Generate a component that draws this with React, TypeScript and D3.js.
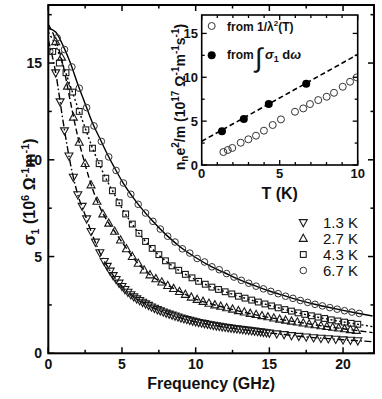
import React from 'react';
import * as d3 from 'd3';

const FONT = "'Liberation Sans', Arial, Helvetica, sans-serif";

// ---------- main panel: sigma1 (10^6 Ohm^-1 m^-1) vs frequency (GHz) ----------
const fitFreq = [0, 0.5, 1, 1.5, 2, 2.5, 3, 3.5, 4, 4.5, 5, 6, 7, 8, 9, 10, 11, 12, 13, 14, 15, 16, 17, 18, 19, 20, 21, 22];
const fit13 = [16.2, 14.5, 12.0, 9.8, 8.2, 7.15, 6.1, 5.2, 4.5, 3.92, 3.46, 2.82, 2.4, 2.08, 1.83, 1.63, 1.48, 1.35, 1.25, 1.15, 1.05, 0.97, 0.88, 0.81, 0.76, 0.7, 0.65, 0.6];
const fit27 = [17.0, 16.2, 14.9, 13.0, 11.2, 9.75, 8.5, 7.55, 6.85, 6.3, 5.75, 4.72, 4.0, 3.55, 3.16, 2.8, 2.56, 2.36, 2.17, 2.0, 1.85, 1.72, 1.6, 1.48, 1.37, 1.27, 1.17, 1.07];
const fit43 = [16.6, 15.9, 14.9, 13.8, 12.7, 11.65, 10.6, 9.7, 8.9, 8.2, 7.5, 6.35, 5.45, 4.75, 4.22, 3.8, 3.45, 3.18, 2.93, 2.7, 2.48, 2.27, 2.08, 1.91, 1.76, 1.62, 1.5, 1.38];
const fit67 = [16.8, 16.6, 15.9, 15.0, 13.9, 12.9, 11.9, 11.1, 10.3, 9.58, 8.9, 7.8, 6.9, 6.12, 5.47, 4.95, 4.5, 4.15, 3.8, 3.5, 3.22, 2.98, 2.75, 2.55, 2.38, 2.22, 2.07, 1.93];

const freq13 = [0.5, 0.8, 1.1, 1.4, 1.7, 2.0, 2.3, 2.6, 2.9, 3.2, 3.5, 3.8,
  4.0, 4.2, 4.4, 4.6, 4.8, 5.0, 5.2, 5.4, 5.6, 5.8, 6.0, 6.2, 6.4, 6.6, 6.8, 7.0, 7.2, 7.4, 7.6, 7.8,
  8.0, 8.2, 8.4, 8.6, 8.8, 9.0, 9.2, 9.4, 9.6, 9.8, 10.0, 10.2, 10.4, 10.6, 10.8, 11.0, 11.2, 11.4, 11.6, 11.8,
  12.0, 12.2, 12.4, 12.6, 12.8, 13.0, 13.2, 13.4, 13.6, 13.8, 14.0, 14.2, 14.4, 14.6, 14.8, 15.0,
  15.5, 16.0, 16.5, 17.0, 17.5, 18.0, 18.5, 19.0, 19.5, 20.0, 20.5, 21.0];
const sig13 = [14.5, 13.0, 11.5, 10.2, 9.1, 8.2, 7.6, 6.95, 6.3, 5.75, 5.2, 4.75,
  4.5, 4.25, 4.02, 3.82, 3.63, 3.46, 3.3, 3.16, 3.03, 2.92, 2.82, 2.73, 2.64, 2.56, 2.48, 2.4, 2.33, 2.26, 2.2, 2.14,
  2.08, 2.03, 1.98, 1.93, 1.88, 1.83, 1.79, 1.75, 1.71, 1.67, 1.63, 1.6, 1.57, 1.54, 1.51, 1.48, 1.45, 1.42, 1.4, 1.37,
  1.35, 1.33, 1.31, 1.29, 1.27, 1.25, 1.23, 1.21, 1.19, 1.17, 1.15, 1.13, 1.11, 1.09, 1.07, 1.05,
  1.01, 0.97, 0.92, 0.88, 0.85, 0.81, 0.78, 0.76, 0.73, 0.7, 0.68, 0.65];

const freq27 = [0.5, 0.9, 1.3, 1.7, 2.1, 2.5, 2.9, 3.3, 3.7, 4.1, 4.5, 4.9, 5.3, 5.7, 6.1, 6.5, 6.9, 7.3, 7.7, 8.1,
  8.5, 8.9, 9.3, 9.7, 10.1, 10.5, 10.9, 11.3, 11.7, 12.1, 12.5, 12.9, 13.3, 13.7, 14.1, 14.5, 14.9, 15.3, 15.7,
  16.1, 16.5, 16.9, 17.3, 17.7, 18.1, 18.5, 18.9, 19.3, 19.7, 20.1, 20.5, 20.9];
const sig27 = [16.1, 15.3, 13.8, 12.2, 10.9, 9.8, 8.7, 7.85, 7.2, 6.72, 6.3, 5.85, 5.4, 5.0, 4.65, 4.3, 4.05, 3.85, 3.68, 3.5,
  3.34, 3.19, 3.04, 2.9, 2.78, 2.68, 2.58, 2.5, 2.43, 2.35, 2.28, 2.2, 2.13, 2.06, 2.0, 1.94, 1.88, 1.82, 1.76,
  1.71, 1.66, 1.61, 1.56, 1.51, 1.47, 1.42, 1.38, 1.34, 1.3, 1.26, 1.22, 1.18];

const freq43 = [0.3, 0.75, 1.2, 1.65, 2.1, 2.55, 3.0, 3.45, 3.9, 4.35, 4.8, 5.25, 5.7, 6.15, 6.6, 7.05, 7.5, 7.95,
  8.4, 8.85, 9.3, 9.75, 10.2, 10.65, 11.1, 11.55, 12.0, 12.45, 12.9, 13.35, 13.8, 14.25, 14.7, 15.15, 15.6,
  16.05, 16.5, 16.95, 17.4, 17.85, 18.3, 18.75, 19.2, 19.65, 20.1, 20.55, 21.0];
const sig43 = [15.6, 15.0, 14.5, 13.5, 12.5, 11.55, 10.6, 9.8, 9.05, 8.4, 7.78, 7.2, 6.68, 6.2, 5.78, 5.42, 5.1, 4.78,
  4.52, 4.29, 4.08, 3.9, 3.72, 3.57, 3.42, 3.3, 3.18, 3.07, 2.95, 2.85, 2.75, 2.65, 2.55, 2.45, 2.35,
  2.26, 2.18, 2.09, 2.01, 1.94, 1.87, 1.8, 1.73, 1.67, 1.61, 1.55, 1.5];

const freq67 = [0.1, 0.6, 1.1, 1.6, 2.1, 2.6, 3.1, 3.6, 4.1, 4.6, 5.1, 5.6, 6.1, 6.6, 7.1, 7.6, 8.1, 8.6, 9.1, 9.6,
  10.1, 10.6, 11.1, 11.6, 12.1, 12.6, 13.1, 13.6, 14.1, 14.6, 15.1, 15.6, 16.1, 16.6, 17.1, 17.6, 18.1, 18.6,
  19.1, 19.6, 20.1, 20.6, 21.1];
const sig67 = [15.6, 16.3, 15.7, 14.8, 13.7, 12.7, 11.75, 10.95, 10.15, 9.45, 8.8, 8.22, 7.7, 7.25, 6.82, 6.42, 6.05, 5.75, 5.4, 5.18,
  4.9, 4.72, 4.47, 4.32, 4.12, 3.94, 3.77, 3.62, 3.47, 3.33, 3.2, 3.08, 2.95, 2.84, 2.73, 2.63, 2.53, 2.45,
  2.36, 2.28, 2.2, 2.13, 2.06];

const xTicks = [0, 5, 10, 15, 20];
const xMinor = [2.5, 7.5, 12.5, 17.5];
const yTicks = [0, 5, 10, 15];
const yMinor = [2.5, 7.5, 12.5, 17.5];
const legendLabels = ['1.3 K', '2.7 K', '4.3 K', '6.7 K'];

// ---------- inset: n_n e^2/m (10^17) vs T (K) ----------
const tLambda = [1.39, 1.67, 1.96, 2.5, 2.99, 3.48, 3.99, 4.55, 5.08, 5.98, 6.51, 6.94, 7.47, 8.01, 8.48, 9.04, 9.51, 9.94];
const nLambda = [1.48, 1.71, 1.94, 2.54, 2.93, 3.34, 3.91, 4.56, 5.2, 6.07, 6.45, 6.95, 7.4, 7.78, 8.23, 8.92, 9.49, 9.99];
const tInt = [1.3, 2.7, 4.3, 6.7];
const nInt = [3.85, 5.25, 6.95, 9.25];
const fitT = [0, 10];
const fitN = [2.7, 12.6];
const insetXTicks = [0, 5, 10];
const insetXMinor = [1, 2, 3, 4, 6, 7, 8, 9];
const insetYTicks = [0, 5, 10, 15];
const insetYMinor = [2.5, 7.5, 12.5];

const STROKE = '#1a1a1a';

function triPath(cx: number, cy: number, up: boolean) {
  const s = up ? 1 : -1;
  return `M${cx},${cy - 4.3 * s}L${cx + 4},${cy + 2.9 * s}L${cx - 4},${cy + 2.9 * s}Z`;
}

function Marker({ kind, cx, cy }: { kind: string; cx: number; cy: number }) {
  if (kind === 'down') return <path d={triPath(cx, cy, false)} fill="none" stroke={STROKE} strokeWidth={1.1} />;
  if (kind === 'up') return <path d={triPath(cx, cy, true)} fill="none" stroke={STROKE} strokeWidth={1.1} />;
  if (kind === 'square') return <rect x={cx - 2.9} y={cy - 2.9} width={5.8} height={5.8} fill="none" stroke={STROKE} strokeWidth={1.1} />;
  return <circle cx={cx} cy={cy} r={3.3} fill="none" stroke="#333" strokeWidth={1} />;
}

export default function App() {
  const x = d3.scaleLinear().domain([0, 22.1]).range([48.3, 374]);
  const y = d3.scaleLinear().domain([0, 18]).range([353.3, 5]);

  const line = d3.line<[number, number]>()
    .x((d) => x(d[0]))
    .y((d) => y(d[1]))
    .curve(d3.curveMonotoneX);

  const fits = [
    { v: fit13, dash: '7,2.5,1.5,2.5' },
    { v: fit27, dash: '6,3' },
    { v: fit43, dash: '2,2.5' },
    { v: fit67, dash: undefined },
  ];
  const series = [
    { f: freq13, s: sig13, kind: 'down' },
    { f: freq27, s: sig27, kind: 'up' },
    { f: freq43, s: sig43, kind: 'square' },
    { f: freq67, s: sig67, kind: 'circle' },
  ];

  const [x0, x1] = x.range();
  const [y0, y1] = y.range();

  // inset scales
  const xi = d3.scaleLinear().domain([0, 10]).range([201.7, 357.7]);
  const yi = d3.scaleLinear().domain([0, 17.1]).range([165, 15]);
  const [xi0, xi1] = xi.range();
  const [yi0, yi1] = yi.range();
  const fitLine = d3.line<number>().x((_, i) => xi(fitT[i])).y((d) => yi(d));

  const legendY = [222.5, 238.5, 254.5, 270.5];

  return (
    <svg width={382} height={399} style={{ position: 'absolute', left: 0, top: 0 }} fontFamily={FONT}>
      <rect x={0} y={0} width={382} height={399} fill="#fff" />
      <defs>
        <clipPath id="mainclip">
          <rect x={x0} y={y1} width={x1 - x0} height={y0 - y1} />
        </clipPath>
      </defs>

      {/* fit lines */}
      <g clipPath="url(#mainclip)">
        {fits.map((ft, i) => (
          <path key={i}
            d={line(fitFreq.map((f, j) => [f, ft.v[j]] as [number, number])) || ''}
            fill="none" stroke="#000" strokeWidth={1.4} strokeDasharray={ft.dash} />
        ))}
        {series.map((se, i) => (
          <g key={i}>
            {se.f.map((f, j) => (
              <Marker key={j} kind={se.kind} cx={x(f)} cy={y(se.s[j])} />
            ))}
          </g>
        ))}
      </g>

      {/* main frame */}
      <rect x={x0} y={y1} width={x1 - x0} height={y0 - y1} fill="none" stroke="#000" strokeWidth={2} />

      {/* ticks */}
      {xTicks.map((t) => (
        <g key={'xt' + t}>
          <line x1={x(t)} x2={x(t)} y1={y0} y2={y0 - 6} stroke="#000" strokeWidth={1.5} />
          <line x1={x(t)} x2={x(t)} y1={y1} y2={y1 + 6} stroke="#000" strokeWidth={1.5} />
          <text x={x(t)} y={369} textAnchor="middle" fontSize={14} fontWeight="bold" fill="#111">{t}</text>
        </g>
      ))}
      {xMinor.map((t) => (
        <g key={'xm' + t}>
          <line x1={x(t)} x2={x(t)} y1={y0} y2={y0 - 3.5} stroke="#000" strokeWidth={1.5} />
          <line x1={x(t)} x2={x(t)} y1={y1} y2={y1 + 3.5} stroke="#000" strokeWidth={1.5} />
        </g>
      ))}
      {yTicks.map((t) => (
        <g key={'yt' + t}>
          <line x1={x0} x2={x0 + 6} y1={y(t)} y2={y(t)} stroke="#000" strokeWidth={1.5} />
          <line x1={x1} x2={x1 - 6} y1={y(t)} y2={y(t)} stroke="#000" strokeWidth={1.5} />
          <text x={42} y={y(t) + 5} textAnchor="end" fontSize={14} fontWeight="bold" fill="#111">{t}</text>
        </g>
      ))}
      {yMinor.map((t) => (
        <g key={'ym' + t}>
          <line x1={x0} x2={x0 + 3.5} y1={y(t)} y2={y(t)} stroke="#000" strokeWidth={1.5} />
          <line x1={x1} x2={x1 - 3.5} y1={y(t)} y2={y(t)} stroke="#000" strokeWidth={1.5} />
        </g>
      ))}

      {/* axis titles */}
      <text x={(x0 + x1) / 2} y={389} textAnchor="middle" fontSize={16} fontWeight="bold" fill="#111">Frequency (GHz)</text>
      <text transform="translate(35,192) rotate(-90)" textAnchor="middle" fontSize={16} fontWeight="bold" fill="#111">
        <tspan>σ</tspan><tspan fontSize={11} dy={4}>1</tspan>
        <tspan dy={-4}> (10</tspan><tspan fontSize={11} dy={-6}>6</tspan>
        <tspan dy={6}> Ω</tspan><tspan fontSize={11} dy={-6}>-1</tspan>
        <tspan dy={6}>m</tspan><tspan fontSize={11} dy={-6}>-1</tspan>
        <tspan dy={6}>)</tspan>
      </text>

      {/* legend */}
      {legendLabels.map((lab, i) => (
        <g key={lab}>
          <Marker kind={series[i].kind} cx={303.3} cy={legendY[i]} />
          <text x={323} y={legendY[i] + 5.5} fontSize={15} fill="#111">{lab}</text>
        </g>
      ))}

      {/* ---------- inset ---------- */}
      <rect x={xi0} y={yi1} width={xi1 - xi0} height={yi0 - yi1} fill="#fff" />
      <defs>
        <clipPath id="insetclip">
          <rect x={xi0} y={yi1} width={xi1 - xi0} height={yi0 - yi1} />
        </clipPath>
      </defs>
      <g clipPath="url(#insetclip)">
        <path d={fitLine(fitN) || ''} fill="none" stroke="#000" strokeWidth={1.6} strokeDasharray="5,3" />
        {tLambda.map((t, i) => (
          <circle key={'l' + i} cx={xi(t)} cy={yi(nLambda[i])} r={3.5} fill="none" stroke="#333" strokeWidth={1} />
        ))}
        {tInt.map((t, i) => (
          <circle key={'s' + i} cx={xi(t)} cy={yi(nInt[i])} r={4} fill="#000" />
        ))}
      </g>
      <rect x={xi0} y={yi1} width={xi1 - xi0} height={yi0 - yi1} fill="none" stroke="#000" strokeWidth={1.6} />
      {insetXTicks.map((t) => (
        <g key={'ixt' + t}>
          <line x1={xi(t)} x2={xi(t)} y1={yi0} y2={yi0 - 5} stroke="#000" strokeWidth={1.3} />
          <line x1={xi(t)} x2={xi(t)} y1={yi1} y2={yi1 + 5} stroke="#000" strokeWidth={1.3} />
          <text x={xi(t)} y={178} textAnchor="middle" fontSize={13} fontWeight="bold" fill="#111">{t}</text>
        </g>
      ))}
      {insetXMinor.map((t) => (
        <g key={'ixm' + t}>
          <line x1={xi(t)} x2={xi(t)} y1={yi0} y2={yi0 - 3} stroke="#000" strokeWidth={1.3} />
          <line x1={xi(t)} x2={xi(t)} y1={yi1} y2={yi1 + 3} stroke="#000" strokeWidth={1.3} />
        </g>
      ))}
      {insetYTicks.map((t) => (
        <g key={'iyt' + t}>
          <line x1={xi0} x2={xi0 + 5} y1={yi(t)} y2={yi(t)} stroke="#000" strokeWidth={1.3} />
          <line x1={xi1} x2={xi1 - 5} y1={yi(t)} y2={yi(t)} stroke="#000" strokeWidth={1.3} />
          <text x={198} y={yi(t) + 4.5} textAnchor="end" fontSize={13} fontWeight="bold" fill="#111">{t}</text>
        </g>
      ))}
      {insetYMinor.map((t) => (
        <g key={'iym' + t}>
          <line x1={xi0} x2={xi0 + 3} y1={yi(t)} y2={yi(t)} stroke="#000" strokeWidth={1.3} />
          <line x1={xi1} x2={xi1 - 3} y1={yi(t)} y2={yi(t)} stroke="#000" strokeWidth={1.3} />
        </g>
      ))}
      <text x={(xi0 + xi1) / 2} y={199} textAnchor="middle" fontSize={16} fontWeight="bold" fill="#111">T (K)</text>
      <text transform="translate(185,97) rotate(-90)" textAnchor="middle" fontSize={14} fontWeight="bold" fill="#111">
        <tspan>n</tspan><tspan fontSize={10} dy={3}>n</tspan>
        <tspan dy={-3}>e</tspan><tspan fontSize={10} dy={-6}>2</tspan>
        <tspan dy={6}>/m  (10</tspan><tspan fontSize={10} dy={-6}>17</tspan>
        <tspan dy={6}> Ω</tspan><tspan fontSize={10} dy={-6}>-1</tspan>
        <tspan dy={6}>m</tspan><tspan fontSize={10} dy={-6}>-1</tspan>
        <tspan dy={6}>s</tspan><tspan fontSize={10} dy={-6}>-1</tspan>
        <tspan dy={6}>)</tspan>
      </text>

      {/* inset legend */}
      <circle cx={211.7} cy={26} r={3.5} fill="none" stroke="#333" strokeWidth={1} />
      <text x={227} y={31} fontSize={12} fontWeight="bold" fill="#111">
        <tspan>from 1/λ</tspan><tspan fontSize={8} dy={-5}>2</tspan><tspan dy={5}>(T)</tspan>
      </text>
      <circle cx={211.7} cy={55.3} r={4} fill="#000" />
      <text x={227} y={59} fontSize={12} fontWeight="bold" fill="#111">from</text>
      <text x={255} y={67} fontSize={27} fill="#111">∫</text>
      <text x={265} y={59} fontSize={13} fontWeight="bold" fill="#111">
        <tspan fontStyle="italic">σ</tspan><tspan fontSize={9} dy={3}>1</tspan>
        <tspan dy={-3}>  d</tspan><tspan fontStyle="italic">ω</tspan>
      </text>
    </svg>
  );
}
